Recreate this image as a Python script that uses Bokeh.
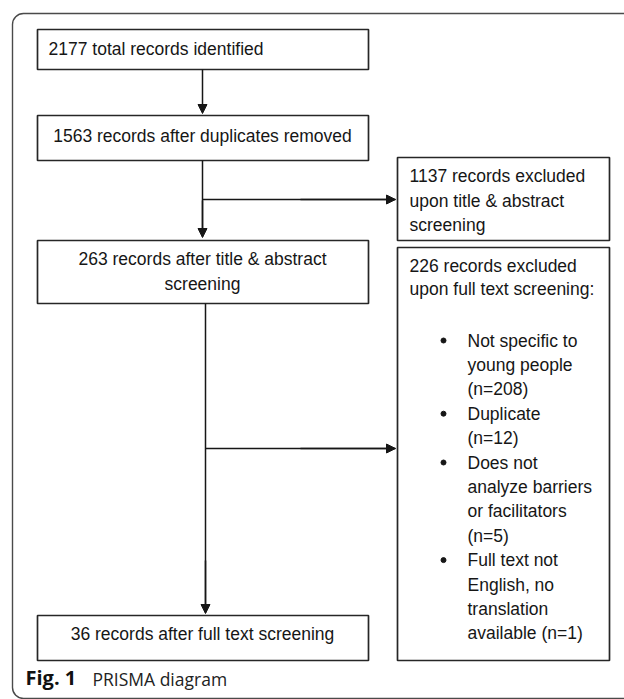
from bokeh.plotting import figure
from bokeh.models import Range1d, Arrow, NormalHead, BoxAnnotation, ColumnDataSource
from bokeh.core.properties import value
from bokeh.embed import file_html
from bokeh.resources import INLINE

# ---- data (record counts of the PRISMA flow) ----
stage_names = ["identified", "after_duplicates", "after_title_abstract", "after_full_text"]
stage_counts = [2177, 1563, 263, 36]
excluded_names = ["title_abstract", "full_text"]
excluded_counts = [1137, 226]
reason_counts = [208, 12, 5, 1]
reason_lines = [
    ["Not specific to", "young people", "(n={})"],
    ["Duplicate", "(n={})"],
    ["Does not", "analyze barriers", "or facilitators", "(n={})"],
    ["Full text not", "English, no", "translation", "available (n={})"],
]

# ---- layout (image pixel coordinates) ----
W, H = 624, 699
FONT = value("Liberation Sans")
FS = "17.5px"
INK = "#161616"
BOXLINE = "#262626"

p = figure(width=W, height=H, x_range=Range1d(0, W), y_range=Range1d(H, 0),
           output_backend="svg", toolbar_location=None, min_border=0,
           x_axis_location=None, y_axis_location=None)
p.grid.visible = False
p.outline_line_color = None
p.background_fill_color = "white"
p.border_fill_color = "white"

# outer rounded frame
p.add_layout(BoxAnnotation(left=12, right=740, top=13, bottom=698, border_radius=11,
                           fill_color=None, fill_alpha=0, line_color="#4a4a4a",
                           line_alpha=1.0, line_width=1.4))

# boxes
box_l = [37, 37, 397, 37, 397, 37]
box_r = [368, 368, 609, 368, 609, 368]
box_t = [29, 115, 157, 240, 247, 615]
box_b = [69, 160, 240, 303, 660, 660]
p.quad(left=box_l, right=box_r, top=box_t, bottom=box_b, fill_color="white",
       line_color=BOXLINE, line_width=1.7)

# connector lines (without heads)
p.segment(x0=[202, 202, 205, 205], y0=[160, 199, 303, 448],
          x1=[202, 395, 205, 395], y1=[236, 199, 612, 448],
          line_color=INK, line_width=1.5)

# arrows
arr = ColumnDataSource(dict(
    x0=[202, 202, 300, 205, 300],
    y0=[69, 200, 199, 560, 448],
    x1=[202, 202, 395, 205, 395],
    y1=[113, 237, 199, 613, 448],
))
p.add_layout(Arrow(end=NormalHead(size=9, line_color=INK, fill_color=INK, line_width=1),
                   source=arr, x_start="x0", y_start="y0", x_end="x1", y_end="y1",
                   line_color=INK, line_width=1.5))

tk = dict(text_font=FONT, text_font_size=FS, text_color=INK, text_baseline="middle")

# left-aligned text in box 1
p.text(x=[48], y=[48], text=["{} total records identified".format(stage_counts[0])],
       text_align="left", **tk)

# centred texts in main column
c_text = [
    "{} records after duplicates removed".format(stage_counts[1]),
    "{} records after title & abstract".format(stage_counts[2]),
    "screening",
    "{} records after full text screening".format(stage_counts[3]),
]
p.text(x=[202, 202, 202, 202], y=[135, 258, 283, 633], text=c_text, text_align="center", **tk)

# exclusion box texts
ex_text = [
    "{} records excluded".format(excluded_counts[0]),
    "upon title & abstract",
    "screening",
    "{} records excluded".format(excluded_counts[1]),
    "upon full text screening:",
]
p.text(x=[409] * 5, y=[175, 200, 224, 265, 288], text=ex_text, text_align="left", **tk)

# bullet list
lines, bul_y, ys = [], [], []
y0, dy = 340, 24.4
k = 0
for grp, n in zip(reason_lines, reason_counts):
    for j, ln in enumerate(grp):
        lines.append(ln.format(n) if "{}" in ln else ln)
        ys.append(y0 + k * dy)
        if j == 0:
            bul_y.append(y0 + k * dy)
        k += 1
p.text(x=[467] * len(lines), y=ys, text=lines, text_align="left", **tk)
p.scatter(x=[443] * len(bul_y), y=bul_y, size=5, marker="circle", color=INK)

# caption
p.text(x=[25], y=[677], text=["Fig. 1"], text_font=value("Open Sans"), text_font_size="20px",
       text_font_style="bold", text_color="#111111", text_baseline="middle", text_align="left")
p.text(x=[92], y=[678], text=["PRISMA diagram"], text_font=value("Open Sans"), text_font_size="17.5px",
       text_color="#222222", text_baseline="middle", text_align="left")

open("out.html", "w").write(file_html(p, INLINE))
